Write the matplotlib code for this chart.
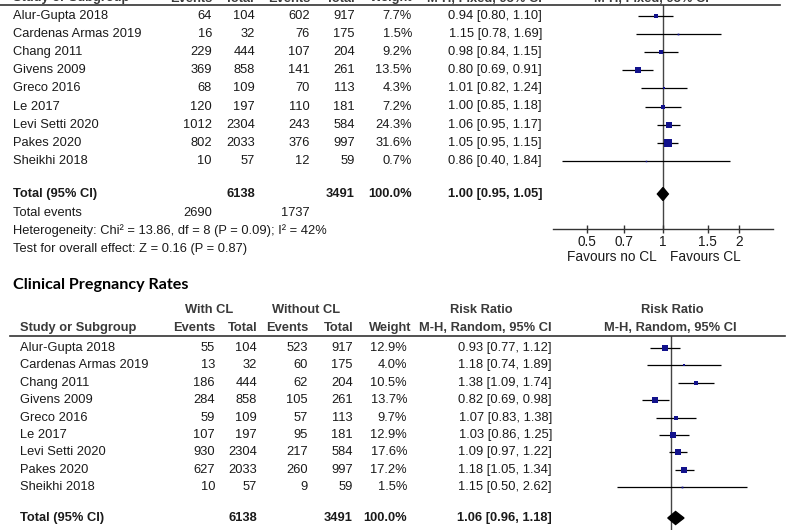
import numpy as np
import matplotlib
matplotlib.use("Agg")
import matplotlib.pyplot as plt
from matplotlib.lines import Line2D

plt.rcParams['font.family'] = ['Liberation Sans', 'DejaVu Sans']

studies = ["Alur-Gupta 2018", "Cardenas Armas 2019", "Chang 2011", "Givens 2009",
           "Greco 2016", "Le 2017", "Levi Setti 2020", "Pakes 2020", "Sheikhi 2018"]
total_cl = [104, 32, 444, 858, 109, 197, 2304, 2033, 57]
total_no = [917, 175, 204, 261, 113, 181, 584, 997, 59]

# top panel (fixed effect)
ev_cl_a = [64, 16, 229, 369, 68, 120, 1012, 802, 10]
ev_no_a = [602, 76, 107, 141, 70, 110, 243, 376, 12]
weight_a = [7.7, 1.5, 9.2, 13.5, 4.3, 7.2, 24.3, 31.6, 0.7]
rr_a = [0.94, 1.15, 0.98, 0.80, 1.01, 1.00, 1.06, 1.05, 0.86]
lo_a = [0.80, 0.78, 0.84, 0.69, 0.82, 0.85, 0.95, 0.95, 0.40]
hi_a = [1.10, 1.69, 1.15, 0.91, 1.24, 1.18, 1.17, 1.15, 1.84]
pooled_a = (1.00, 0.95, 1.05)
sum_events_a = (2690, 1737)

# bottom panel: clinical pregnancy rates (random effects)
ev_cl_b = [55, 13, 186, 284, 59, 107, 930, 627, 10]
ev_no_b = [523, 60, 62, 105, 57, 95, 217, 260, 9]
weight_b = [12.9, 4.0, 10.5, 13.7, 9.7, 12.9, 17.6, 17.2, 1.5]
rr_b = [0.93, 1.18, 1.38, 0.82, 1.07, 1.03, 1.09, 1.18, 1.15]
lo_b = [0.77, 0.74, 1.09, 0.69, 0.83, 0.86, 0.97, 1.05, 0.50]
hi_b = [1.12, 1.89, 1.74, 0.98, 1.38, 1.25, 1.22, 1.34, 2.62]
pooled_b = (1.06, 0.96, 1.18)

ticks = [0.5, 0.7, 1, 1.5, 2]
tick_labels = ["0.5", "0.7", "1", "1.5", "2"]

W, H = 800, 530
fig = plt.figure(figsize=(8, 5.3), dpi=100)
TXT = '#1a1a1a'
HDR = '#3a3a3a'
NAVY = '#12128c'
FS = 9.3


def put(x, y, s, ha='left', va='center', **kw):
    kw.setdefault('color', TXT)
    kw.setdefault('fontsize', FS)
    fig.text(x / W, 1 - y / H, s, ha=ha, va=va, **kw)


def hline(x0, x1, y, color='#333333', lw=1.2):
    fig.add_artist(Line2D([x0 / W, x1 / W], [1 - y / H, 1 - y / H],
                          color=color, lw=lw, transform=fig.transFigure))


def forest_axes(left, right, top, bottom, one_px, px_per_ln, row0, row_h):
    ax = fig.add_axes([left / W, 1 - bottom / H, (right - left) / W, (bottom - top) / H])
    ax.set_xscale('log')
    ax.set_xlim(np.exp((left - one_px) / px_per_ln), np.exp((right - one_px) / px_per_ln))
    ax.set_ylim((bottom - row0) / row_h, (top - row0) / row_h)
    ax.patch.set_alpha(0)
    for s in ['top', 'left', 'right', 'bottom']:
        ax.spines[s].set_visible(False)
    ax.set_yticks([])
    ax.axvline(1, color='#444444', lw=1.0, zorder=1)
    return ax


def draw_forest(ax, rr, lo, hi, weight, pooled, total_row, row_h):
    rows = np.arange(len(rr))
    ax.hlines(rows, lo, hi, color='black', lw=0.9, zorder=2)
    for r, x, w in zip(rows, rr, weight):
        side = max(1.42 * np.sqrt(w), 1.5) * 0.72
        ax.plot([x], [r], marker='s', ms=side, color=NAVY, mec=NAVY, mew=0, ls='none', zorder=3)
    est, plo, phi = pooled
    h = 6.5 / row_h
    ax.fill([plo, est, phi, est], [total_row, total_row - h, total_row, total_row + h],
            color='black', zorder=3)


def table(y0, dy, x_name, cols, ev_cl, ev_no, weight, rr, lo, hi):
    for i, name in enumerate(studies):
        y = y0 + dy * i
        put(x_name, y, name)
        put(cols[0], y, str(ev_cl[i]), ha='right')
        put(cols[1], y, str(total_cl[i]), ha='right')
        put(cols[2], y, str(ev_no[i]), ha='right')
        put(cols[3], y, str(total_no[i]), ha='right')
        put(cols[4], y, f"{weight[i]:.1f}%", ha='right')
        put(cols[5], y, f"{rr[i]:.2f} [{lo[i]:.2f}, {hi[i]:.2f}]", ha='right')


def totals(y, x_name, cols, pooled):
    put(x_name, y, "Total (95% CI)", fontweight='bold')
    put(cols[1], y, str(sum(total_cl)), ha='right', fontweight='bold')
    put(cols[3], y, str(sum(total_no)), ha='right', fontweight='bold')
    put(cols[4], y, "100.0%", ha='right', fontweight='bold')
    put(cols[5], y, f"{pooled[0]:.2f} [{pooled[1]:.2f}, {pooled[2]:.2f}]", ha='right',
        fontweight='bold')


# ---------------- top panel ----------------
cols_a = [212, 255, 310, 355, 412, 542]
hdr_y = 1.5
put(13, hdr_y, "Study or Subgroup", va='baseline', fontweight='bold', color=HDR)
for x, s in zip(cols_a[:4], ["Events", "Total", "Events", "Total"]):
    put(x, hdr_y, s, ha='right', va='baseline', fontweight='bold', color=HDR)
put(cols_a[4], hdr_y, "Weight", ha='right', va='baseline', fontweight='bold', color=HDR)
put(cols_a[5], hdr_y, "M-H, Fixed, 95% CI", ha='right', va='baseline', fontweight='bold', color=HDR)
put(651, hdr_y, "M-H, Fixed, 95% CI", ha='center', va='baseline', fontweight='bold', color=HDR)
hline(0, 780, 4.5)

row0_a, dy_a = 16, 18.1
table(row0_a, dy_a, 13, cols_a, ev_cl_a, ev_no_a, weight_a, rr_a, lo_a, hi_a)
totals(194, 13, cols_a, pooled_a)
put(13, 213, "Total events")
put(cols_a[0], 213, str(sum_events_a[0]), ha='right')
put(cols_a[2], 213, str(sum_events_a[1]), ha='right')
put(13, 231, "Heterogeneity: Chi² = 13.86, df = 8 (P = 0.09); I² = 42%")
put(13, 249, "Test for overall effect: Z = 0.16 (P = 0.87)")

ax1 = forest_axes(553, 773, 5, 229, 663, 110, row0_a, dy_a)
ax1.spines['bottom'].set_visible(True)
ax1.spines['bottom'].set_color('#333333')
ax1.spines['bottom'].set_linewidth(1.0)
ax1.set_xticks(ticks)
ax1.set_xticklabels(tick_labels)
ax1.xaxis.set_minor_locator(matplotlib.ticker.NullLocator())
ax1.tick_params(axis='x', direction='inout', length=6, width=1.0, color='#333333',
                labelsize=9.8, labelcolor=TXT, pad=1.5)
draw_forest(ax1, rr_a, lo_a, hi_a, weight_a, pooled_a, (194 - row0_a) / dy_a, dy_a)
put(657, 257, "Favours no CL", ha='right', fontsize=9.8)
put(670, 257, "Favours CL", ha='left', fontsize=9.8)

# ---------------- bottom panel ----------------
fig.text(13 / W, 1 - 285 / H, "Clinical Pregnancy Rates", ha='left', va='center',
         fontsize=11.6, fontweight='bold', family=['Lato', 'DejaVu Sans'], color='black')

cols_b = [215, 257, 308, 353, 407, 552]
put(209, 310, "With CL", ha='center', fontweight='bold', color=HDR)
put(306, 310, "Without CL", ha='center', fontweight='bold', color=HDR)
put(481, 310, "Risk Ratio", ha='center', fontweight='bold', color=HDR)
put(672, 310, "Risk Ratio", ha='center', fontweight='bold', color=HDR)
put(20, 328, "Study or Subgroup", fontweight='bold', color=HDR)
for x, s in zip(cols_b[:4], ["Events", "Total", "Events", "Total"]):
    put(x, 328, s, ha='right', fontweight='bold', color=HDR)
put(cols_b[4] + 4, 328, "Weight", ha='right', fontweight='bold', color=HDR)
put(cols_b[5], 328, "M-H, Random, 95% CI", ha='right', fontweight='bold', color=HDR)
put(670, 328, "M-H, Random, 95% CI", ha='center', fontweight='bold', color=HDR)
hline(10, 785, 336)

row0_b, dy_b = 348, 17.4
table(row0_b, dy_b, 20, cols_b, ev_cl_b, ev_no_b, weight_b, rr_b, lo_b, hi_b)
totals(518, 20, cols_b, pooled_b)

ax2 = forest_axes(600, 760, 336, 545, 671, 78.5, row0_b, dy_b)
ax2.set_xticks([])
ax2.xaxis.set_minor_locator(matplotlib.ticker.NullLocator())
draw_forest(ax2, rr_b, lo_b, hi_b, weight_b, pooled_b, (518 - row0_b) / dy_b, dy_b)

fig.savefig("out.png", dpi=100)
